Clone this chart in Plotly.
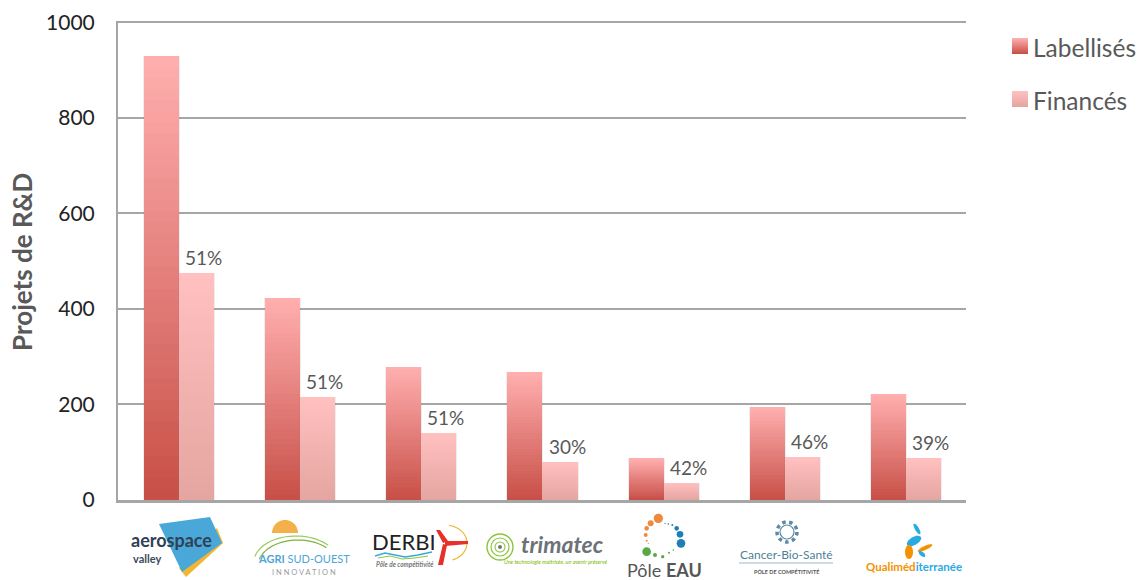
import math
import plotly.graph_objects as go

categories = ["Aerospace Valley", "Agri Sud-Ouest", "Derbi", "Trimatec", "Pôle Eau", "Cancer-Bio-Santé", "Qualiméditerranée"]
labellises = [930, 423, 278, 267, 87, 194, 221]
finances = [475, 215, 140, 80, 36, 89, 87]
percent_labels = ["51%", "51%", "51%", "30%", "42%", "46%", "39%"]
y_ticks = [0, 200, 400, 600, 800, 1000]

L, R, T, B = 118, 966, 21, 500
BAR_W = 0.29
BANDS = 40
FONT = "Lato, sans-serif"


def mix(a, b, t):
    return "rgb(%d,%d,%d)" % tuple(round(a[i] + (b[i] - a[i]) * t) for i in range(3))


LAB_TOP, LAB_BOT = (255, 174, 174), (200, 80, 72)
FIN_TOP, FIN_BOT = (255, 192, 192), (229, 165, 160)


def gradient_trace(values, top, bot, offset, name):
    xs, ys, cs = [], [], []
    for k in range(BANDS):
        f = 1 - k / BANDS
        for i, v in enumerate(values):
            xs.append(i)
            ys.append(v * f)
            cs.append(mix(top, bot, k / (BANDS - 1)))
    return go.Bar(x=xs, y=ys, width=BAR_W, offset=offset, marker=dict(color=cs, line_width=0),
                  showlegend=False, name=name, hoverinfo="skip")


def shadow_trace(values, offset):
    return go.Bar(x=list(range(len(values))), y=values, width=BAR_W + 0.016, offset=offset - 0.008,
                  marker=dict(color="rgba(120,120,120,0.13)", line_width=0), showlegend=False, hoverinfo="skip")


fig = go.Figure()
fig.add_trace(shadow_trace(labellises, -BAR_W))
fig.add_trace(gradient_trace(labellises, LAB_TOP, LAB_BOT, -BAR_W, "Labellisés"))
fig.add_trace(shadow_trace(finances, 0))
fig.add_trace(gradient_trace(finances, FIN_TOP, FIN_BOT, 0, "Financés"))

# legend entries (transparent swatches: the gradient swatches sit beneath)
for nm in ["Labellisés", "Financés"]:
    fig.add_trace(go.Bar(x=[None], y=[None], name=nm, legendgroup=nm, marker=dict(color="rgba(0,0,0,0)", line_width=0)))


def px(x):
    return (x - L) / (R - L)


def py(y):
    return (B - y) / (B - T)


shapes, annots = [], []

# percent labels above the "Financés" bars
for i, (v, s) in enumerate(zip(finances, percent_labels)):
    annots.append(dict(x=i + BAR_W / 2, y=v, xref="x", yref="y", text=s, showarrow=False, xanchor="center", yanchor="bottom",
                       xshift=7, yshift=2, font=dict(size=19, color="#595959", family=FONT)))

# y axis title, placed as the reference has it
annots.append(dict(x=px(22), y=py(262), xref="paper", yref="paper", text="<b>Projets de R&D</b>", showarrow=False, textangle=-90,
                   xanchor="center", yanchor="middle", font=dict(size=26, color="#595959", family=FONT)))


def poly(pts, fill, line=None, closed=True):
    d = "M " + " L ".join(f"{px(x):.5f},{py(y):.5f}" for x, y in pts) + (" Z" if closed else "")
    shapes.append(dict(type="path", path=d, xref="paper", yref="paper", fillcolor=fill if closed else "rgba(0,0,0,0)",
                       line=dict(width=line[1] if line else 0, color=line[0] if line else "rgba(0,0,0,0)"), layer="above"))


def circ(cx, cy, r, fill=None, line=None, dash="solid"):
    shapes.append(dict(type="circle", xref="paper", yref="paper", x0=px(cx - r), x1=px(cx + r), y0=py(cy + r), y1=py(cy - r),
                       fillcolor=fill or "rgba(0,0,0,0)",
                       line=dict(width=line[1] if line else 0, color=line[0] if line else "rgba(0,0,0,0)", dash=dash), layer="above"))


def txt(x, y, s, size, color, family=FONT, anchor="center"):
    annots.append(dict(x=px(x), y=py(y), xref="paper", yref="paper", text=s, showarrow=False, xanchor=anchor, yanchor="middle",
                       font=dict(size=size, color=color, family=family), borderpad=0))


def arc(cx, cy, rx, ry, a0, a1, n=24):
    return [(cx + rx * math.cos(math.radians(a0 + (a1 - a0) * i / n)), cy - ry * math.sin(math.radians(a0 + (a1 - a0) * i / n)))
            for i in range(n + 1)]


def ellipse(cx, cy, rx, ry, rot, fill):
    r = math.radians(rot)
    pts = []
    for i in range(20):
        t = 2 * math.pi * i / 20
        ex, ey = rx * math.cos(t), ry * math.sin(t)
        pts.append((cx + ex * math.cos(r) - ey * math.sin(r), cy - (ex * math.sin(r) + ey * math.cos(r))))
    poly(pts, fill)


# legend swatches with gradient
for y0, top, bot in [(38, LAB_TOP, LAB_BOT), (91, FIN_TOP, FIN_BOT)]:
    for k in range(16):
        poly([(1012, y0 + k), (1028, y0 + k), (1028, y0 + k + 1), (1012, y0 + k + 1)], mix(top, bot, k / 15))

# --- aerospace valley
poly([(217, 528), (223, 543), (186, 577), (179, 568)], "#f2b632")
poly([(159, 524), (210, 517), (222, 543), (182, 572)], "#4aa8d8")
txt(171, 540, "<b>aerospace</b>", 18, "#2f4156")
txt(147, 558, "<b>valley</b>", 11, "#3c4a5a")
# --- agri sud-ouest
poly(arc(285, 533, 13, 13, 0, 180), "#f4b04a")
poly(arc(296, 562, 42, 26, 168, 40), None, line=("#9acb5a", 1.2), closed=False)
poly(arc(298, 566, 40, 26, 165, 45), None, line=("#7cb342", 1.2), closed=False)
txt(304, 558, "<b>AGRI</b> SUD-OUEST", 11, "#4ea6d6")
txt(304, 572, "I N N O V A T I O N", 7.5, "#9a9a9a")
# --- derbi
txt(404, 541, "DERBI", 22, "#222222")
poly([(375, 556), (385, 553), (395, 555), (405, 557), (418, 555), (432, 552)], None, line=("#39a9dc", 1.5), closed=False)
poly([(378, 558), (390, 556), (402, 559), (415, 558), (428, 556)], None, line=("#8cc63f", 1), closed=False)
txt(405, 564, "<b><i>Pôle de compétitivité</i></b>", 6.5, "#777777")
poly(arc(445, 543, 22, 18, 80, -70), None, line=("#f2b632", 1.2), closed=False)
poly([(445, 541), (468, 541), (468, 544), (445, 546)], "#e8302a")
poly([(443, 543), (436, 530), (440, 530), (448, 541)], "#e8302a")
poly([(443, 544), (438, 565), (443, 565), (447, 545)], "#e8302a")
# --- trimatec
for r, w in [(13, 1.4), (9, 1.2), (5, 1.1)]:
    circ(500, 547, r, line=("#8cc63f", w))
circ(500, 547, 2, fill="#777777")
txt(562, 544, "<b><i>trimatec</i></b>", 23, "#6d7278")
txt(556, 562, "<i>Une technologie maîtrisée, un avenir préservé</i>", 5.5, "#7ab800")
# --- pôle eau
eau_dots = [(565, 55, 14, "#ee8a3c"), (542, 70, 9, "#ee8a3c"), (530, 85, 7, "#ee8a3c"), (527, 105, 6, "#ee8a3c"), (530, 122, 3, "#ee8a3c"),
            (535, 130, 2, "#ee8a3c"), (585, 70, 2, "#1f7fb5"), (595, 72, 2.5, "#1f7fb5"), (607, 75, 3, "#1f7fb5"), (620, 85, 7, "#1f7fb5"),
            (630, 103, 10, "#1f7fb5"), (633, 130, 13, "#1f7fb5"), (530, 155, 13, "#5aa845"), (555, 165, 6, "#5aa845"),
            (578, 170, 5, "#5aa845"), (597, 158, 3, "#5aa845"), (610, 150, 2.5, "#5aa845")]
for zx, zy, zr, c in eau_dots:
    circ(470 + zx / 3, 500 + zy / 3, zr / 3, fill=c)
txt(664, 570, "Pôle <b>EAU</b>", 18, "#555555")
# --- cancer-bio-santé
circ(787, 532, 10, line=("#5b8aa3", 3.5), dash="dot")
circ(787, 532, 7, line=("#5b8aa3", 1.2))
txt(786, 554, "Cancer-Bio-Santé", 12, "#4f7f96")
poly([(739, 563), (833, 563)], None, line=("#9ab8c8", 1), closed=False)
txt(786, 571, "<b>PÔLE DE COMPÉTITIVITÉ</b>", 5.5, "#555555")
# --- qualiméditerranée
ellipse(917, 529, 6, 2, -60, "#29abe2")
ellipse(914, 541, 8, 4, 30, "#29abe2")
ellipse(925, 548, 8, 2, 25, "#f39200")
ellipse(909, 552, 4, 7, 0, "#f39200")
ellipse(922, 554, 4, 2, -40, "#29abe2")
txt(914, 566, "<b><span style='color:#f39200'>Qualiméd</span><span style='color:#29abe2'>iterranée</span></b>", 11.5, "#f39200")

fig.update_layout(
    width=1139, height=580, barmode="overlay", bargap=0,
    margin=dict(l=L, r=1139 - R, t=T, b=580 - B, pad=0, autoexpand=False),
    paper_bgcolor="white", plot_bgcolor="white",
    font=dict(family=FONT, color="#595959"),
    shapes=shapes, annotations=annots,
    legend=dict(xref="container", yref="container", x=993 / 1139, y=1 - 25 / 580, xanchor="left", yanchor="top",
                bgcolor="rgba(0,0,0,0)", font=dict(size=24.5, color="#595959", family=FONT),
                traceorder="grouped", tracegroupgap=18, itemwidth=30),
    xaxis=dict(range=[-0.503, 6.495], showticklabels=False, ticks="", showgrid=False, zeroline=False,
               showline=True, linecolor="#a6a6a6", linewidth=3, automargin=False),
    yaxis=dict(range=[0, 1002.5], tickvals=y_ticks, showgrid=True, gridcolor="#a6a6a6", gridwidth=2, zeroline=False,
               showline=True, linecolor="#a6a6a6", linewidth=2, ticks="outside", ticklen=17, tickcolor="rgba(0,0,0,0)",
               automargin=False,
               tickfont=dict(size=21, color="#222222", family=FONT)),
)
fig.write_html("out.html", config={"displayModeBar": False}, post_script="document.body.style.margin='0';")
